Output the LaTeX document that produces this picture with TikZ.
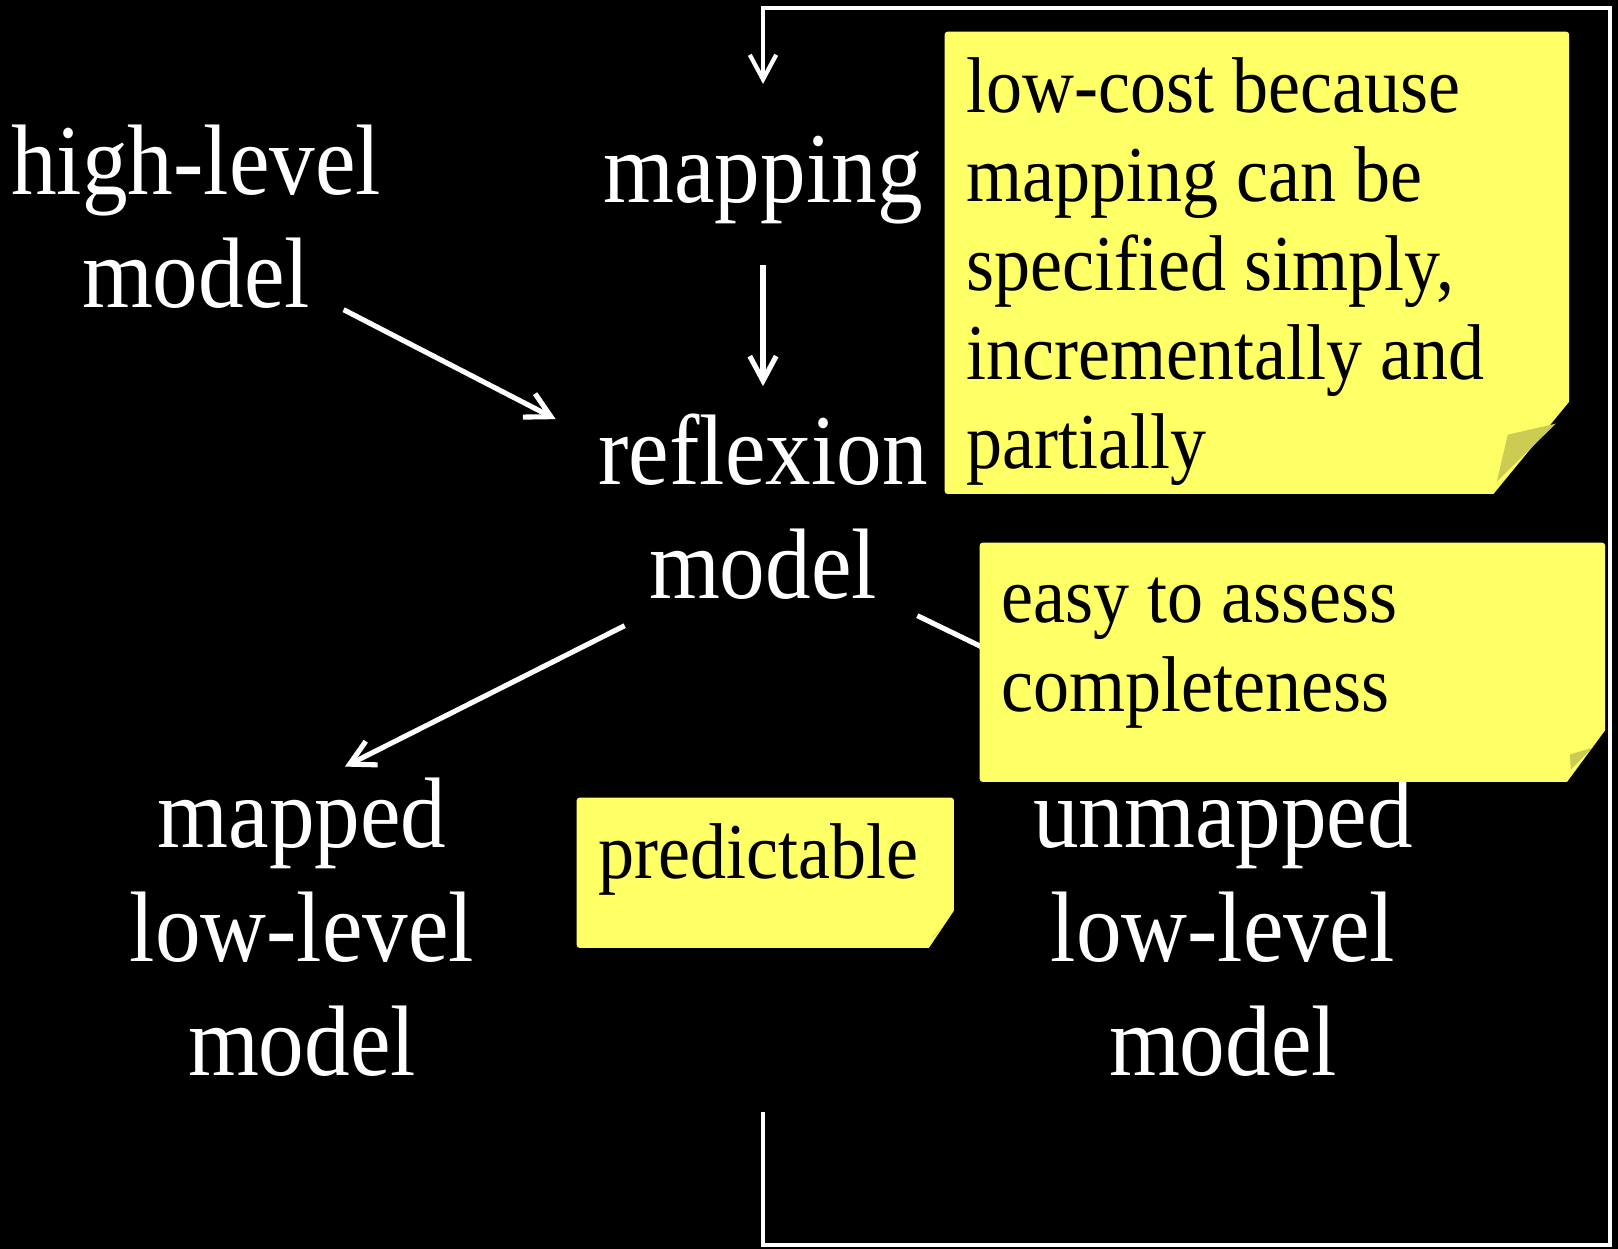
\documentclass[tikz,border=0pt]{standalone}
\usepackage{fontspec}
\setmainfont{Liberation Serif}[FakeStretch=0.91]
\usetikzlibrary{arrows.meta}
\usetikzlibrary{positioning,calc}

\definecolor{notebg}{RGB}{255,255,102}
\definecolor{noteflap}{RGB}{204,204,85}

\begin{document}
\begin{tikzpicture}[x=0.01cm, y=-0.01cm,
         txt/.style = {text=white, inner sep=0pt, align=center, anchor=base,
         font=\fontsize{28.5}{32.3}\selectfont},
         note/.style = {fill=notebg, rounded corners=0.8pt, anchor=north west,
         inner xsep=0.22cm, inner ysep=0pt, align=flush left, text=black,
         font=\fontsize{22.5}{25.3}\selectfont},
         arr/.style = {white, line width=1.45pt,
         -{Straight Barb[length=7pt,width=7.5pt]}},
         loopline/.style = {white, line width=1.2pt,
         -{Straight Barb[length=7pt,width=7.5pt]}}
]
      % black page
      \fill[black] (0,0) rectangle (1618,1249);
      \useasboundingbox (0,0) rectangle (1618,1249);

      % base = baseline of the last line
      \node[txt] (high)     at (196,308)   {high-level\\model};
      \node[txt] (map)      at (763,203)   {mapping};
      \node[txt] (refl)     at (763,598)   {reflexion\\model};
      \node[txt] (mapped)   at (302,1075)  {mapped\\low-level\\model};
      \node[txt] (unmapped) at (1223,1075) {unmapped\\low-level\\model};

      % loop ends
      \coordinate[above=0.52cm of map] (loopin);
      \coordinate (loopout) at (763,1112);

      \draw[arr] ($(high.south east)+(-38,0)$) -- ($(refl.north west)+(-42,6)$);
      \draw[arr, shorten <=0.40cm, shorten >=0.27cm] (map.south) -- (refl.north);
      \draw[arr] ($(refl.south west)+(27,26)$) -- ($(mapped.north east)+(-130,-11)$);
      \draw[arr] ($(refl.south east)+(-11,16)$) -- ($(unmapped.north west)+(149,-34)$);

      % sticky notes
      \node[note, text width=5.80cm, text height=0.81cm, text depth=3.81cm]
         (costnote) at (944,31)
         {low-cost because\\mapping can be\\specified simply,\\incrementally and\\partially};
      \fill[black] ($(costnote.south east)+(7,-102)$) -- ($(costnote.south east)+(7,4)$)
         -- ($(costnote.south east)+(-80,4)$) -- cycle;
      \fill[noteflap] ($(costnote.south east)+(-62,-60)$) -- ($(costnote.south east)+(-14,-71)$)
         -- ($(costnote.south east)+(-73,-13)$) -- cycle;

      \node[note, text width=5.81cm, text height=0.80cm, text depth=1.59cm]
         (assessnote) at (979,542) {easy to assess\\completeness};
      \fill[black] ($(assessnote.south east)+(6,-61)$) -- ($(assessnote.south east)+(6,4)$)
         -- ($(assessnote.south east)+(-42,4)$) -- cycle;
      \fill[noteflap] ($(assessnote.south east)+(-13,-35)$) -- ($(assessnote.south east)+(-36,-28)$)
         -- ($(assessnote.south east)+(-35,-13)$) -- cycle;

      \node[note, text width=3.33cm, text height=0.81cm, text depth=0.69cm]
         (prednote) at (576,797) {predictable};
      \fill[black] ($(prednote.south east)+(5,-46)$) -- ($(prednote.south east)+(5,3)$)
         -- ($(prednote.south east)+(-28,3)$) -- cycle;
      \fill[noteflap] ($(prednote.south east)+(-13,-20)$) -- ($(prednote.south east)+(-21,-13)$)
         -- ($(prednote.south east)+(-23,-10)$) -- cycle;

      % back to the mapping
      \draw[loopline] (loopout) |- (1610,1245) -- (1610,8) -| (loopin);
\end{tikzpicture}
\end{document}
